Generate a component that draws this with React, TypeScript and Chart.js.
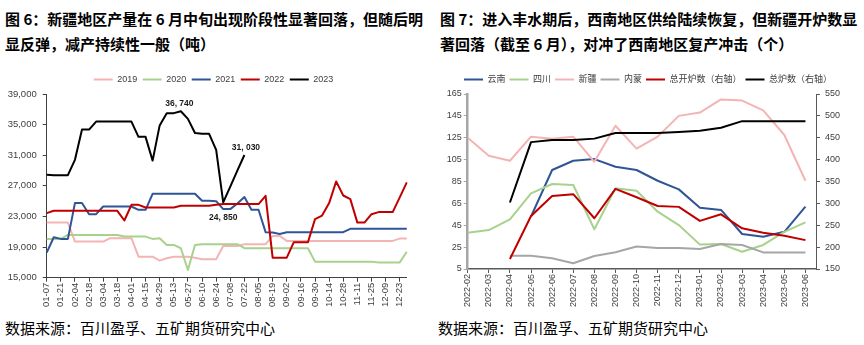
import React, { useEffect, useRef } from 'react';
import { Chart, registerables } from 'chart.js';

Chart.register(...registerables);

const SANS = "'Liberation Sans', 'Noto Sans CJK SC', sans-serif";
const CJK = "'Noto Sans CJK SC', 'Liberation Sans', sans-serif";

// ---------------- Figure 6 data (weekly output, tonnes) ----------------
const weekLabels = [
  '01-07', '01-14', '01-21', '01-28', '02-04', '02-11', '02-18', '02-25',
  '03-04', '03-11', '03-18', '03-25', '04-01', '04-08', '04-15', '04-22', '04-29',
  '05-06', '05-13', '05-20', '05-27', '06-03', '06-10', '06-17', '06-24',
  '07-01', '07-08', '07-15', '07-22', '07-29', '08-05', '08-12', '08-19', '08-26',
  '09-02', '09-09', '09-16', '09-23', '09-30', '10-07', '10-14', '10-21', '10-28',
  '11-04', '11-11', '11-18', '11-25', '12-02', '12-09', '12-16', '12-23', '12-30',
];
const yearLabels = ['2019', '2020', '2021', '2022', '2023'];

const output2019 = [
  22200, 22200, 22200, 22200, 19720, 19720, 19720, 19720, 19720, 20160, 20160, 20160, 20160,
  17750, 17750, 17750, 17230, 17540, 17750, 17750, 17750, 17600, 17410, 17410, 17410,
  19150, 19150, 19150, 19380, 19380, 19380, 19380, 20460, 20460,
  19810, 19810, 19810, 19810, 19810, 19810, 19810, 19810, 19810, 19810, 19810, 19810, 19810, 19810, 19810, 19810,
  20110, 20110,
];
const output2020 = [
  20070, 20070, 20070, 20590, 20590, 20590, 20590, 20590, 20590, 20590, 20590,
  20370, 20370, 20370, 20370, 20070, 20150, 19280, 19280, 18850, 16010, 19280,
  19380, 19380, 19380, 19380, 19380, 19380,
  18850, 18850, 18850, 18850, 18850, 18850, 18850, 18850, 18850, 18850,
  17100, 17100, 17100, 17100, 17100, 17100, 17100, 17100, 17100,
  17000, 17000, 17000, 17000, 18400,
];
const output2021 = [
  18280, 20290, 20070, 20070, 24750, 24750, 23300, 23300,
  24300, 24300, 24300, 24300, 24300, 23870, 23870,
  25960, 25960, 25960, 25960, 25960, 25960, 25960,
  25050, 25050, 25000, 23960, 23960, 24700, 25530, 23870, 23870, 20950, 20900, 20720,
  20950, 20950, 20950, 20950, 20950, 20950, 20950, 20950, 20950,
  21380, 21380, 21380, 21380, 21380, 21380, 21380, 21380, 21380,
];
const output2022 = [
  23440, 23740, 23740, 23740, 23740, 23740, 23740, 23740, 23740, 23740, 23740,
  22470, 24520, 24520, 24170, 24170, 24170, 24170, 24170,
  24390, 24390, 24390, 24390, 24390, 24520,
  24620, 24620, 24620, 24620, 24620, 24620, 25700, 17620, 17620, 17620,
  19640, 19640, 19640, 22650, 23120, 24750, 27580, 25740, 25270, 22200, 22200,
  23300, 23570, 23570, 23570, 25500, 27450,
];
const output2023: (number | null)[] = [
  28450, 28400, 28400, 28400, 30400, 34350, 34350, 35400, 35400, 35400, 35400, 35400, 35400,
  33400, 33400, 30300, 34900, 36500, 36500, 36740, 35750, 33900, 33800, 33800, 31700,
  24850, 26900, 29000, 31030,
  null, null, null, null, null, null, null, null, null, null, null, null, null,
  null, null, null, null, null, null, null, null, null, null, null,
];
const annotatedWeeks = [19, 25, 28];

// ---------------- Figure 7 data (furnaces, count) ----------------
const months = [
  '2022-02', '2022-03', '2022-04', '2022-05', '2022-06', '2022-07', '2022-08', '2022-09',
  '2022-10', '2022-11', '2022-12', '2023-01', '2023-02', '2023-03', '2023-04', '2023-05', '2023-06',
];
const yunnan = [null, null, null, 53, 95.5, 104, 105.5, 98.5, 95.5, 85.7, 77.8, 61, 59, 37, 34.5, 39, 62];
const sichuan = [38.2, 40.6, 50.4, 74.2, 82.7, 81.8, 41.3, 78.8, 76.6, 57.4, 45.2, 27.3, 27.9, 20.8, 27, 39, 47.7];
const xinjiang = [125, 108.6, 104, 126, 124, 126, 103, 136, 115, 126, 145, 148, 160, 159, 150, 127.5, 85.7];
const neimeng = [null, null, 17.2, 17.2, 14.8, 10.2, 16.9, 20.3, 25.6, 24.2, 24.2, 23.3, 27.9, 27, 20.2, 20.2, 20.2];
const openFurnaces = [null, null, 173, 271, 317, 321, 266, 333, 314, 294, 292, 260, 275, 243, 233, 226, 216];
const totalFurnaces = [null, null, 302, 440, 445, 445, 448, 461, 461, 461, 463, 466, 473, 488, 488, 488, 488];
const fig7Names = ['云南', '四川', '新疆', '内蒙', '总开炉数（右轴）', '总炉数（右轴）'];

const fmtThousands = (v: number) => Math.round(v).toLocaleString('en-US');
const fmtAnnot = (v: number) => `${Math.floor(v / 1000)}, ${String(v % 1000).padStart(3, '0')}`;
const byDatasetIndex = (a: any, b: any) => a.datasetIndex - b.datasetIndex;

const annotPlugin = {
  id: 'annot6',
  afterDatasetsDraw(chart: any) {
    const meta = chart.getDatasetMeta(4);
    const ctx = chart.ctx;
    ctx.save();
    ctx.font = `bold 8.5px ${SANS}`;
    ctx.fillStyle = '#1a1a1a';
    ctx.textAlign = 'center';
    ctx.textBaseline = 'middle';
    annotatedWeeks.forEach((i) => {
      const p = meta.data[i];
      const v = output2023[i] as number;
      const prev = output2023[i - 1] as number;
      const below = v < prev;
      ctx.fillText(fmtAnnot(v), p.x + (below ? 0 : i === 28 ? 1.5 : -1.5), p.y + (below ? 15 : -7.5));
    });
    ctx.restore();
  },
};

function Figure6() {
  const ref = useRef<HTMLCanvasElement>(null);
  useEffect(() => {
    const colors = ['#F4B4B4', '#A9D18E', '#2F5597', '#C00000', '#000000'];
    const series = [output2019, output2020, output2021, output2022, output2023];
    const axisColor = '#404040';
    const chart = new Chart(ref.current as HTMLCanvasElement, {
      type: 'line',
      data: {
        labels: weekLabels,
        datasets: series.map((d, k) => ({
          label: yearLabels[k],
          data: d,
          borderColor: colors[k],
          backgroundColor: colors[k],
          borderWidth: 2,
          pointRadius: 0,
          tension: 0,
          order: 5 - k,
          borderJoinStyle: 'round' as const,
        })),
      },
      options: {
        responsive: false,
        animation: false,
        devicePixelRatio: 1,
        layout: { padding: { top: 6, left: 0, right: 5, bottom: 0 } },
        plugins: {
          legend: {
            position: 'top',
            labels: {
              usePointStyle: true,
              pointStyle: 'line',
              pointStyleWidth: 19,
              padding: 5.5,
              color: '#404040',
              font: { family: SANS, size: 9 },
              sort: byDatasetIndex,
            },
          },
          subtitle: { display: true, text: '', padding: 0, font: { size: 3.5, lineHeight: 1 } },
          tooltip: { enabled: false },
        },
        scales: {
          x: {
            type: 'category',
            offset: false,
            grid: {
              drawOnChartArea: false,
              drawTicks: true,
              tickLength: 4,
              color: (c: any) => (c.index % 2 === 0 ? axisColor : 'rgba(0,0,0,0)'),
            },
            border: { display: true, color: axisColor, width: 1 },
            ticks: {
              autoSkip: false,
              minRotation: 90,
              maxRotation: 90,
              padding: 1,
              color: '#404040',
              font: { family: SANS, size: 9.5 },
              callback: (_v: any, i: number) => (i % 2 === 0 ? weekLabels[i] : ''),
            },
            afterFit: (s: any) => { s.height = 37.3; },
          },
          y: {
            min: 15000,
            max: 39000,
            grid: { drawOnChartArea: false, drawTicks: true, tickLength: 4, color: axisColor },
            border: { display: true, color: axisColor, width: 1 },
            ticks: {
              stepSize: 4000,
              padding: 6,
              color: '#404040',
              font: { family: SANS, size: 9.5 },
              callback: (v: any) => fmtThousands(Number(v)),
            },
            afterFit: (s: any) => { s.width = 46.7; },
          },
          spacer: {
            position: 'right',
            display: true,
            grid: { display: false },
            border: { display: false },
            ticks: { display: false },
            afterFit: (s: any) => { s.width = 20.2; },
          },
        },
      },
      plugins: [annotPlugin],
    } as any);
    return () => chart.destroy();
  }, []);
  return (
    <canvas
      ref={ref}
      width={432}
      height={255}
      style={{ position: 'absolute', left: 0, top: 60, width: 432, height: 255 }}
    />
  );
}

function Figure7() {
  const ref = useRef<HTMLCanvasElement>(null);
  useEffect(() => {
    const series = [yunnan, sichuan, xinjiang, neimeng, openFurnaces, totalFurnaces];
    const colors = ['#2F5597', '#A9D18E', '#F4B4B4', '#A6A6A6', '#C00000', '#000000'];
    const axisIds = ['y', 'y', 'y', 'y', 'y1', 'y1'];
    const orders = [6, 5, 4, 3, 2, 1];
    const chart = new Chart(ref.current as HTMLCanvasElement, {
      type: 'line',
      data: {
        datasets: series.map((d, k) => ({
          label: fig7Names[k],
          data: d.map((v, i) => ({ x: i, y: v })),
          borderColor: colors[k],
          backgroundColor: colors[k],
          borderWidth: 2,
          pointRadius: 0,
          tension: 0,
          yAxisID: axisIds[k],
          order: orders[k],
          borderJoinStyle: 'round' as const,
        })),
      },
      options: {
        responsive: false,
        animation: false,
        devicePixelRatio: 1,
        layout: { padding: { top: 7.5, left: 0, right: 0, bottom: 0 } },
        plugins: {
          legend: {
            position: 'top',
            labels: {
              usePointStyle: true,
              pointStyle: 'line',
              pointStyleWidth: 19,
              padding: 4,
              color: '#404040',
              font: { family: SANS, size: 9 },
              sort: byDatasetIndex,
            },
          },
          subtitle: { display: true, text: '', padding: 0, font: { size: 3.5, lineHeight: 1 } },
          tooltip: { enabled: false },
        },
        scales: {
          x: {
            type: 'linear',
            min: 0,
            max: 16.5,
            grid: { drawOnChartArea: false, drawTicks: true, tickLength: 4, color: '#595959' },
            border: { display: true, color: '#595959', width: 1.5 },
            ticks: {
              stepSize: 1,
              includeBounds: false,
              autoSkip: false,
              minRotation: 90,
              maxRotation: 90,
              padding: 1,
              color: '#404040',
              font: { family: SANS, size: 9 },
              callback: (v: any) => {
                const i = Math.round(Number(v));
                return months[i] ?? '';
              },
            },
            afterFit: (s: any) => { s.height = 46; },
          },
          y: {
            position: 'left',
            min: 5,
            max: 165,
            grid: { drawOnChartArea: false, drawTicks: true, tickLength: 4, color: '#A6A6A6' },
            border: { display: true, color: '#A6A6A6', width: 2.5 },
            ticks: { stepSize: 20, padding: 2, color: '#404040', font: { family: SANS, size: 9 } },
            afterFit: (s: any) => { s.width = 35.7; },
          },
          y1: {
            position: 'right',
            min: 150,
            max: 550,
            grid: { drawOnChartArea: false, drawTicks: true, tickLength: 4, color: '#595959' },
            border: { display: true, color: '#595959', width: 1 },
            ticks: { stepSize: 50, padding: 5, color: '#404040', font: { family: SANS, size: 9 } },
            afterFit: (s: any) => { s.width = 48; },
          },
        },
      },
    } as any);
    return () => chart.destroy();
  }, []);
  return (
    <canvas
      ref={ref}
      width={432}
      height={255}
      style={{ position: 'absolute', left: 432, top: 60, width: 432, height: 255 }}
    />
  );
}

const titleStyle: React.CSSProperties = {
  position: 'absolute',
  top: 7,
  fontFamily: CJK,
  fontWeight: 700,
  fontSize: 15,
  lineHeight: '24.5px',
  color: '#000',
  whiteSpace: 'nowrap',
};
const sourceStyle: React.CSSProperties = {
  position: 'absolute',
  top: 318,
  fontFamily: CJK,
  fontWeight: 400,
  fontSize: 15,
  lineHeight: '20px',
  color: '#000',
  whiteSpace: 'nowrap',
};

export default function App() {
  return (
    <div
      style={{
        position: 'fixed',
        left: 0,
        top: 0,
        width: 864,
        height: 345,
        background: '#fff',
        overflow: 'hidden',
      }}
    >
      <div style={{ ...titleStyle, left: 5 }}>
        <div>图 6：新疆地区产量在 6 月中旬出现阶段性显著回落，但随后明</div>
        <div>显反弹，减产持续性一般（吨）</div>
      </div>
      <div style={{ ...titleStyle, left: 440 }}>
        <div>图 7：进入丰水期后，西南地区供给陆续恢复，但新疆开炉数显</div>
        <div>著回落（截至 6 月），对冲了西南地区复产冲击（个）</div>
      </div>
      <Figure6 />
      <Figure7 />
      <div style={{ ...sourceStyle, left: 5 }}>数据来源：百川盈孚、五矿期货研究中心</div>
      <div style={{ ...sourceStyle, left: 438 }}>数据来源：百川盈孚、五矿期货研究中心</div>
    </div>
  );
}
